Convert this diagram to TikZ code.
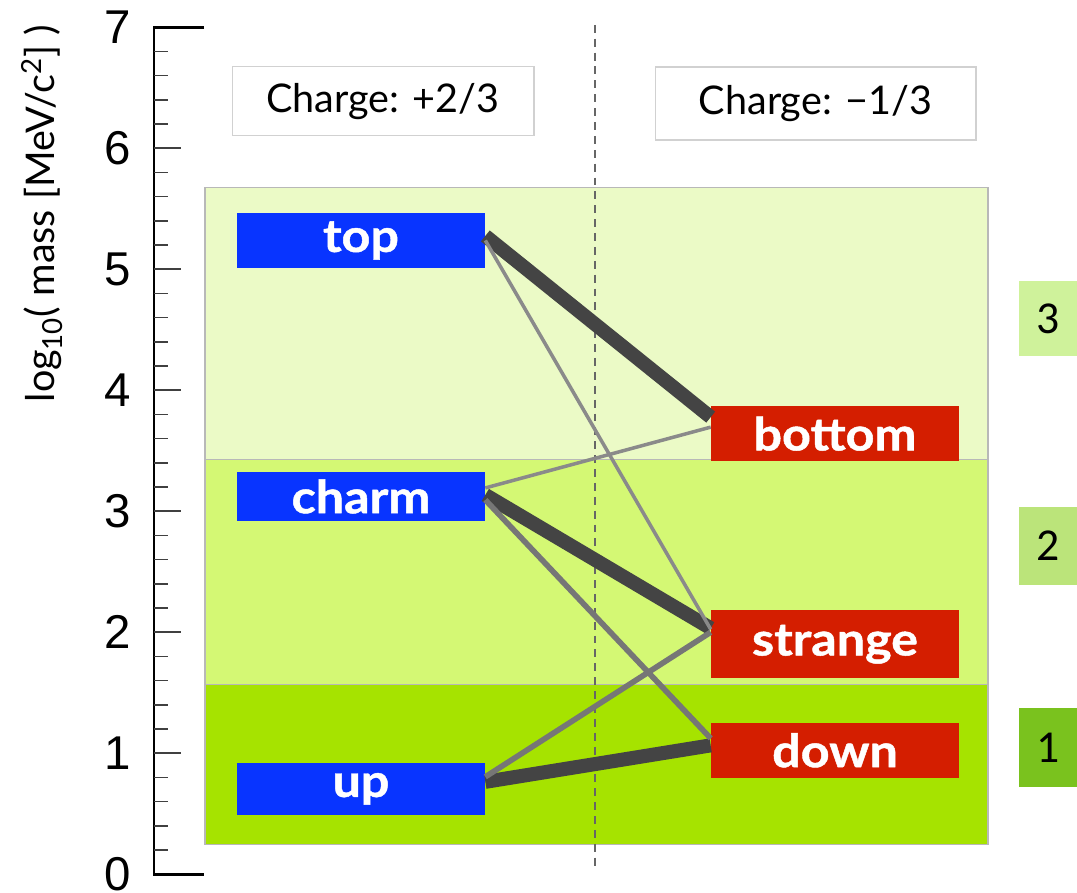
\documentclass[tikz,border=0pt]{standalone}
\usepackage{fontspec}
\setmainfont{Lato}
\newfontfamily\axisfont{Liberation Sans}
\newfontfamily\genfont{Carlito}
\newfontfamily\quarkfont{Lato}[FakeStretch=1.1, FakeBold=1]
\usepackage{tikz}
\definecolor{upblue}{RGB}{8,52,255}
\definecolor{downred}{RGB}{212,30,0}
\definecolor{genone}{RGB}{166,227,0}
\definecolor{gentwo}{RGB}{212,248,116}
\definecolor{genthree}{RGB}{235,250,198}
\definecolor{tagone}{RGB}{122,194,30}
\definecolor{tagtwo}{RGB}{187,228,122}
\definecolor{tagthree}{RGB}{207,242,155}
\definecolor{mixdark}{RGB}{68,68,68}
\definecolor{mixmid}{RGB}{118,118,118}
\definecolor{mixlight}{RGB}{138,138,138}
\tikzset{
  band/.style      ={draw=black!28, line width=0.6pt},
  chargebox/.style ={rectangle, draw=black!18, fill=white, line width=0.6pt,
                     minimum height=1.38cm, font=\fontsize{22.5}{26}\selectfont},
  quark/.style     ={rectangle, inner sep=0pt, minimum width=4.96cm,
                     minimum height=1.1cm, text=white,
                     font=\quarkfont\bfseries\fontsize{26}{30}\selectfont},
  upq/.style       ={quark, fill=upblue},
  downq/.style     ={quark, fill=downred},
  gentag/.style    ={rectangle, inner sep=0pt, minimum width=1.16cm,
                     minimum height=1.5cm, font=\genfont\fontsize{26}{30}\selectfont},
  strong/.style    ={draw=mixdark, line width=8pt},
  medium/.style    ={draw=mixmid, line width=3.2pt},
  weak/.style      ={draw=mixlight, line width=2pt},
  divider/.style   ={draw=black!60, line width=1.1pt, dash pattern=on 4.5pt off 3.4pt},
  axisline/.style  ={line width=1.7pt},
  majortick/.style ={draw=black!75, line width=0.9pt},
  minortick/.style ={draw=black!75, line width=0.9pt},
  axisnum/.style   ={font=\axisfont\fontsize{27}{30}\selectfont},
}
\begin{document}
\begin{tikzpicture}[x=0.02cm, y=2.42cm]
    \useasboundingbox (0,-0.1545) rectangle (1077,7.2256);

    % generation bands
    \filldraw[band, fill=genone]   (205,0.243) rectangle (988,1.565);
    \filldraw[band, fill=gentwo]   (205,1.565) rectangle (988,3.424);
    \filldraw[band, fill=genthree] (205,3.424) rectangle (988,5.672);

    % axis
    \draw[axisline] (204,7) -- (154,7) -- (154,0) -- (204,0);
    \foreach \m in {0.2,0.4,...,6.9}
      \draw[minortick] (154,\m) -- (168,\m);
    \foreach \v in {1,...,6}
      \draw[majortick] (154,\v) -- (181,\v);
    \foreach \v in {0,...,7}
      \node[axisnum] (num\v) at (118,\v) {\v};
    \node[font=\fontsize{22.5}{26}\selectfont, rotate=90] (ylab) at (42,5.46)
      {log\textsubscript{10}( mass [MeV/c\textsuperscript{2}] )};

    % charge split
    \draw[divider] (595,7.02) -- (595,0.07);
    \node[chargebox, minimum width=6.04cm] (plus)  at (383,6.387) {Charge: +2/3};
    \node[chargebox, minimum width=6.42cm, minimum height=1.46cm] (minus) at (815.5,6.37) {Charge: −1/3};

    % quarks
    \node[upq] (top)   at (361,5.238) {top};
    \node[upq, minimum height=0.98cm] (charm) at (361,3.122) {charm};
    \node[upq, minimum height=1.04cm] (up)    at (361,0.705) {up};
    \node[downq] (bottom)  at (835,3.641) {bottom};
    \node[downq, minimum height=1.36cm] (strange) at (835,1.900) {strange};
    \node[downq] (down)    at (835,1.023) {down};

    % generation tags
    \node[gentag, fill=tagthree] (gthree) at (1048,4.589) {3};
    \node[gentag, fill=tagtwo, minimum height=1.56cm] (gtwo) at (1048,2.713) {2};
    \node[gentag, fill=tagone, minimum height=1.58cm] (gone) at (1048,1.048) {1};

    % mixing
    \draw[strong] ([yshift=0.09cm]top.east)   -- ([yshift=0.33cm]bottom.west);
    \draw[strong] ([yshift=0.03cm]charm.east) -- ([yshift=0.32cm]strange.west);
    \draw[strong] ([yshift=0.14cm]up.east)    -- ([yshift=0.10cm]down.west);
    \draw[medium] ([yshift=-0.07cm]charm.east) -- ([yshift=0.24cm]down.west);
    \draw[medium] ([yshift=0.24cm]up.east)     -- ([yshift=0.24cm]strange.west);
    \draw[weak]   ([yshift=0.17cm]charm.east)  -- ([yshift=0.13cm]bottom.west);
    \draw[weak]   (top.east) -- ([yshift=0.30cm]strange.west);
\end{tikzpicture}
\end{document}
